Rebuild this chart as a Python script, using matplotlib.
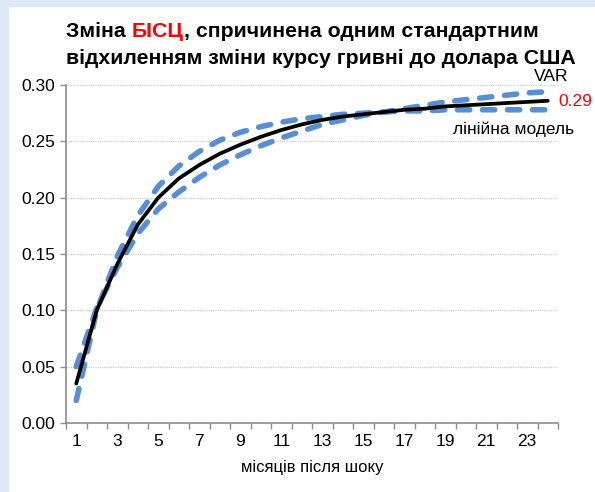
import matplotlib.pyplot as plt
from matplotlib.patches import Rectangle
import numpy as np

# months after the shock
months = list(range(1, 25))
# solid black line
avg = [0.035, 0.100, 0.141, 0.176, 0.200, 0.217, 0.229, 0.239, 0.247, 0.254, 0.260, 0.265,
       0.269, 0.272, 0.274, 0.276, 0.278, 0.279, 0.281, 0.282, 0.283, 0.284, 0.285, 0.286]
# dashed, ends high
var = [0.050, 0.102, 0.138, 0.168, 0.190, 0.205, 0.218, 0.229, 0.238, 0.246, 0.253, 0.259,
       0.265, 0.269, 0.273, 0.276, 0.279, 0.282, 0.285, 0.287, 0.289, 0.291, 0.293, 0.294]
# dashed, flattens out
linear = [0.020, 0.100, 0.148, 0.184, 0.210, 0.228, 0.241, 0.251, 0.258, 0.263, 0.267, 0.270,
          0.272, 0.274, 0.275, 0.276, 0.277, 0.277, 0.278, 0.278, 0.278, 0.278, 0.278, 0.278]
yticks = [0.0, 0.05, 0.10, 0.15, 0.20, 0.25, 0.30]
xticks = list(range(1, 24, 2))

plt.rcParams['font.family'] = ['Liberation Sans', 'DejaVu Sans']

fig = plt.figure(figsize=(5.95, 4.92), dpi=100)
fig.patch.set_facecolor('#dce8f5')
# white panel behind everything
fig.patches.append(Rectangle((9 / 595, 0), 1, 1 - 7 / 492, transform=fig.transFigure,
                             facecolor='white', edgecolor='none', zorder=-10))

ax = fig.add_axes([66 / 595, 69 / 492, 492 / 595, 338 / 492])
ax.set_facecolor('none')

blue = '#568fd6'
for s in (linear, var):
    ax.plot(months, s, color=blue, lw=4, linestyle=(0, (2.2, 2.3)),
            dash_capstyle='round', solid_capstyle='round', zorder=2)
ax.plot(months, avg, color='black', lw=2.7, zorder=3, solid_capstyle='round')

ax.set_xlim(0.5, 24.5)
ax.set_ylim(0, 0.30)
ax.set_yticks(yticks)
ax.set_yticklabels([f'{v:.2f}' for v in yticks])
ax.set_xticks(xticks)
ax.set_xticks(np.arange(0.5, 25, 1), minor=True)
ax.tick_params(axis='x', which='major', length=0, pad=8, labelsize=12.5)
ax.tick_params(axis='x', which='minor', length=4, color='#8c8c8c', width=1)
ax.tick_params(axis='y', length=4, color='#8c8c8c', width=1, pad=4, labelsize=12.5)

for sp in ('top', 'right'):
    ax.spines[sp].set_visible(False)
for sp in ('left', 'bottom'):
    ax.spines[sp].set_color('#8c8c8c')
    ax.spines[sp].set_linewidth(1.2)

ax.grid(axis='y', color='#c8c8c8', linestyle=(0, (1, 1)), lw=0.8)
ax.set_axisbelow(True)

ax.set_xlabel('місяців після шоку', fontsize=12, labelpad=8)

# end labels
ax.text(25.0, 0.3005, 'VAR', ha='right', va='bottom', fontsize=12.5, clip_on=False)
ax.text(24.5, 0.2855, '0.29', ha='left', va='center', fontsize=12.5, color='red', clip_on=False)
ax.text(25.3, 0.2675, 'лінійна модель', ha='right', va='top', fontsize=12.5, clip_on=False)

# title with red word
tsize = 15.3
x0, y1, y2 = 66 / 595, 1 - 37 / 492, 1 - 64 / 492
t1 = fig.text(x0, y1, 'Зміна ', fontsize=tsize, fontweight='bold')
fig.canvas.draw()
r = fig.canvas.get_renderer()
bb = t1.get_window_extent(r)
t2 = fig.text(bb.x1 / fig.bbox.width, y1, 'БІСЦ', fontsize=tsize, fontweight='bold', color='#ff0000')
bb2 = t2.get_window_extent(r)
fig.text(bb2.x1 / fig.bbox.width, y1, ', спричинена одним стандартним', fontsize=tsize, fontweight='bold')
fig.text(x0, y2, 'відхиленням зміни курсу гривні до долара США', fontsize=tsize, fontweight='bold')

fig.savefig('out.png', dpi=100, facecolor=fig.get_facecolor())
